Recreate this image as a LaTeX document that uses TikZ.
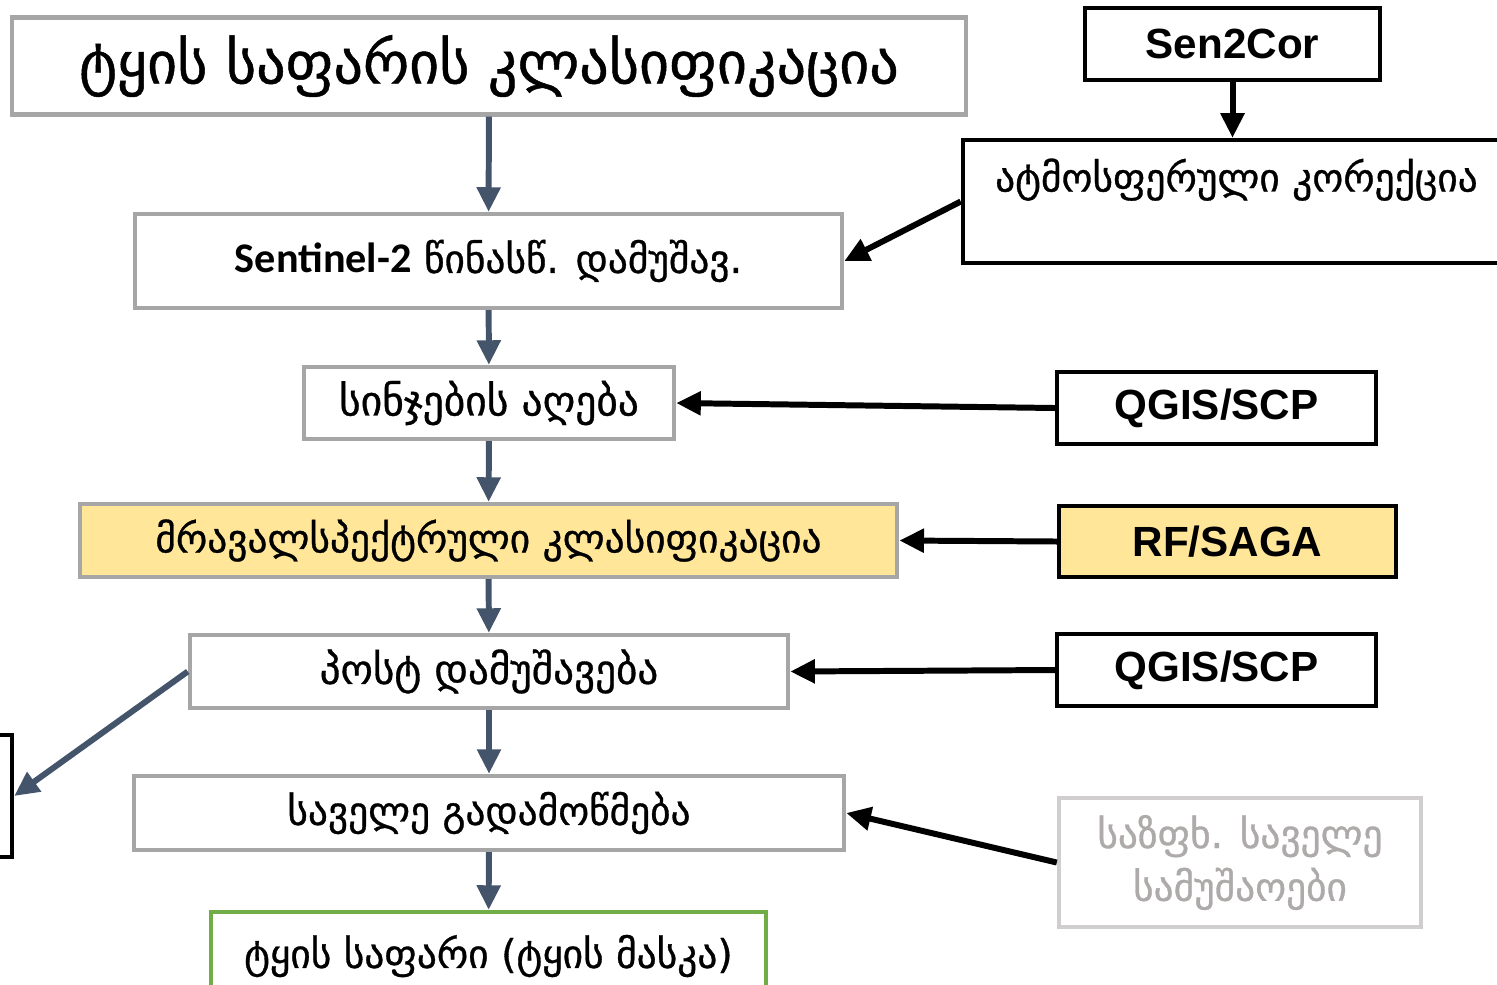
\documentclass[tikz,border=0pt]{standalone}
\usepackage{fontspec}
\setmainfont{DejaVu Sans}[FakeBold=0.8]
\newfontfamily\arialbf{Liberation Sans}[BoldFont={Liberation Sans Bold}]
\newfontfamily\calibrifont{Carlito}
\usetikzlibrary{arrows.meta}

\definecolor{slate}{HTML}{44546A}
\definecolor{boxgray}{HTML}{A6A6A6}
\definecolor{paleyellow}{HTML}{FFE699}
\definecolor{leafgreen}{HTML}{70AD47}
\definecolor{fadegray}{HTML}{D0CECE}
\definecolor{fadetext}{HTML}{AEAAAA}

\tikzset{
  stepbox/.style={draw=boxgray, line width=1.2pt, fill=white, inner sep=0pt, font=\fontsize{11.2}{13}\selectfont},
  toolbox/.style={draw=black, line width=1.2pt, fill=white, inner sep=0pt, font=\arialbf\bfseries\fontsize{12}{14}\selectfont},
  flow/.style={slate, line width=1.7pt, -{Triangle[length=7pt,width=6.5pt]}},
  feed/.style={black, line width=1.7pt, -{Triangle[length=7pt,width=6.5pt]}}
}

\begin{document}
\begin{tikzpicture}[x=0.01cm, y=-0.01cm]
  \useasboundingbox (0,0) rectangle (1497,984);
  \clip (0,0) rectangle (1497,984);

  % main chain
  \node[stepbox, minimum width=9.54cm, minimum height=0.97cm, font=\fontsize{16.5}{19}\selectfont] (title) at (489,66) {ტყის საფარის კლასიფიკაცია};
  \node[stepbox, minimum width=7.07cm, minimum height=0.94cm] (sentinel) at (488.5,261) {{\calibrifont\bfseries\fontsize{12}{14}\selectfont Sentinel-2} წინასწ. დამუშავ.};
  \node[stepbox, minimum width=3.70cm, minimum height=0.72cm, font=\fontsize{11.8}{14}\selectfont] (samples) at (489,403) {სინჯების აღება};
  \node[stepbox, fill=paleyellow, minimum width=8.17cm, minimum height=0.73cm] (multi) at (488.5,540.5) {მრავალსპექტრული კლასიფიკაცია};
  \node[stepbox, minimum width=5.98cm, minimum height=0.73cm, font=\fontsize{11.7}{14}\selectfont] (post) at (489,671.5) {პოსტ დამუშავება};
  \node[stepbox, minimum width=7.10cm, minimum height=0.74cm] (field) at (489,813) {საველე გადამოწმება};
  \node[stepbox, draw=leafgreen, minimum width=5.55cm, minimum height=0.88cm] (mask) at (488.5,956) {ტყის საფარი (ტყის მასკა)};

  % tools on the right
  \node[toolbox, minimum width=2.95cm, minimum height=0.72cm] (sen2cor) at (1232.5,44) {Sen2Cor};
  \node[toolbox, font=\fontsize{11.2}{13}\selectfont, minimum width=5.47cm, minimum height=1.23cm, text height=0.35cm, text depth=0.55cm] (atmo) at (1236.5,201.5) {ატმოსფერული კორექცია};
  \node[toolbox, minimum width=3.19cm, minimum height=0.72cm] (qgisa) at (1216.5,408) {QGIS/SCP};
  \node[toolbox, fill=paleyellow, minimum width=3.37cm, minimum height=0.71cm] (rfsaga) at (1227.5,541.5) {RF/SAGA};
  \node[toolbox, minimum width=3.19cm, minimum height=0.72cm] (qgisb) at (1216.5,670) {QGIS/SCP};
  \node[stepbox, draw=fadegray, text=fadetext, align=center, minimum width=3.62cm, minimum height=1.29cm, font=\fontsize{11.2}{15}\selectfont] (summer) at (1240,862.5) {საზფხ. საველე\\სამუშაოები};

  % box cut off at the left edge
  \node[draw=black, line width=1.2pt, minimum width=3.12cm, minimum height=1.22cm] (outside) at (-144,796) {};

  % arrows down the chain
  \draw[flow] (title) -- (sentinel);
  \draw[flow] (sentinel) -- (samples);
  \draw[flow] (samples) -- (multi);
  \draw[flow] (multi) -- (post);
  \draw[flow] (post) -- (field);
  \draw[flow] (field) -- (mask);
  \draw[flow] (post.west) -- (outside.east);

  % arrows from the tools
  \draw[feed] (sen2cor.south) -- (sen2cor.south |- atmo.north);
  \draw[feed] (atmo.west) -- (sentinel.east);
  \draw[feed] (qgisa.west) -- (samples.east);
  \draw[feed] (rfsaga.west) -- (multi.east);
  \draw[feed] (qgisb.west) -- (post.east);
  \draw[feed] (summer.west) -- (field.east);
\end{tikzpicture}
\end{document}
